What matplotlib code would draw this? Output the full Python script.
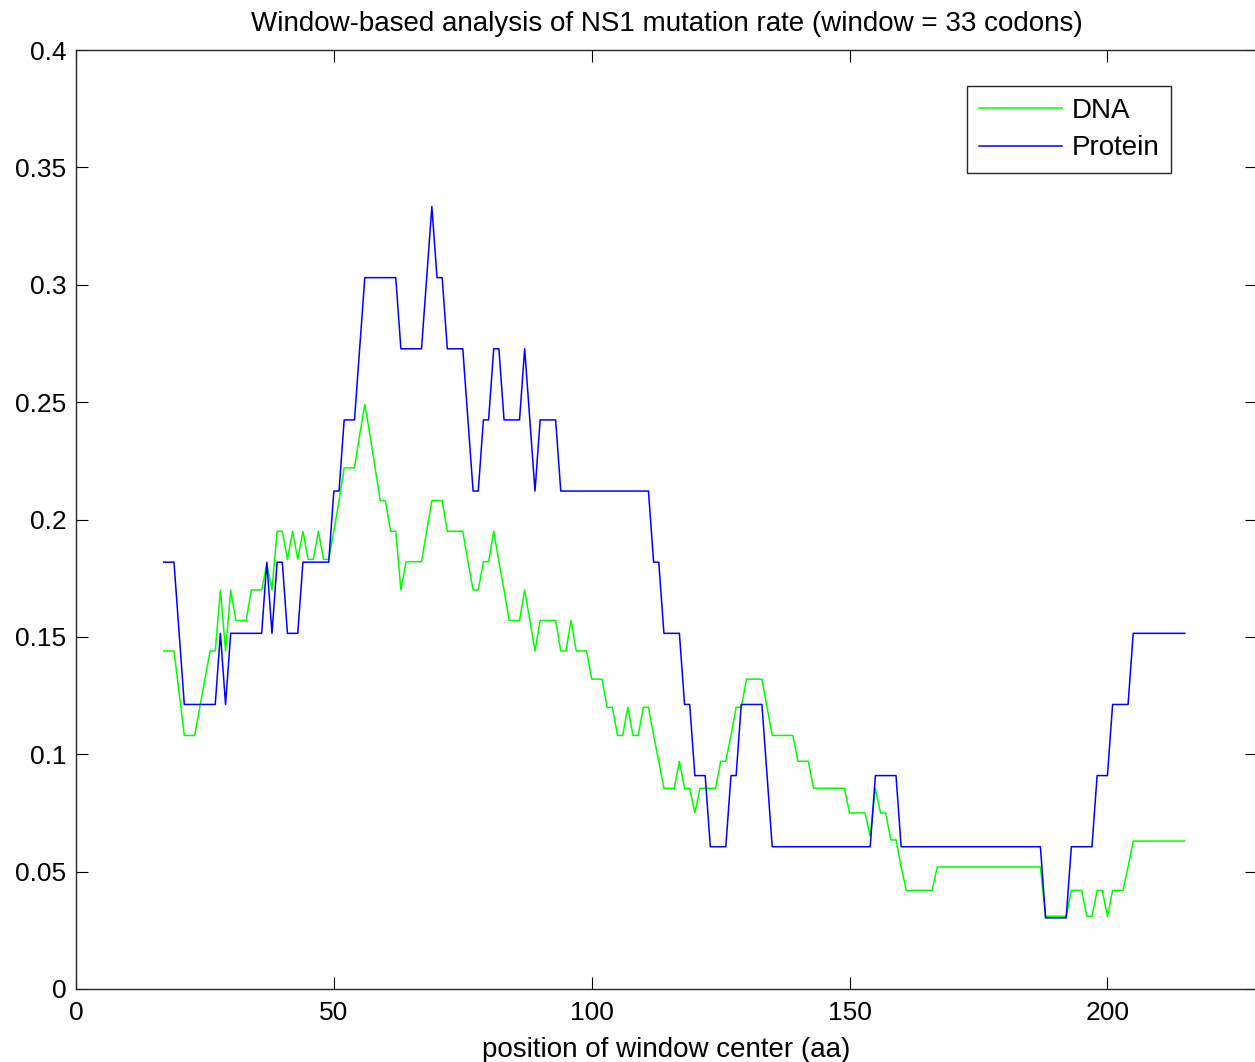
import numpy as np
import matplotlib
matplotlib.use("Agg")
from matplotlib import pyplot as plt

plt.rcParams['font.family'] = ['Liberation Sans', 'DejaVu Sans']

px = 1 / 100.  # pixel in inches at dpi 100

WINDOW = 33

# window centers (aa)
position = np.arange(17, 216)

# protein: number of mutated codons in the window (rate = count / 33)
protein_count = [
    6, 6, 6, 5, 4, 4, 4, 4, 4, 4,
    4, 5, 4, 5, 5, 5, 5, 5, 5, 5,
    6, 5, 6, 6, 5, 5, 5, 6, 6, 6,
    6, 6, 6, 7, 7, 8, 8, 8, 9, 10,
    10, 10, 10, 10, 10, 10, 9, 9, 9, 9,
    9, 10, 11, 10, 10, 9, 9, 9, 9, 8,
    7, 7, 8, 8, 9, 9, 8, 8, 8, 8,
    9, 8, 7, 8, 8, 8, 8, 7, 7, 7,
    7, 7, 7, 7, 7, 7, 7, 7, 7, 7,
    7, 7, 7, 7, 7, 6, 6, 5, 5, 5,
    5, 4, 4, 3, 3, 3, 2, 2, 2, 2,
    3, 3, 4, 4, 4, 4, 4, 3, 2, 2,
    2, 2, 2, 2, 2, 2, 2, 2, 2, 2,
    2, 2, 2, 2, 2, 2, 2, 2, 3, 3,
    3, 3, 3, 2, 2, 2, 2, 2, 2, 2,
    2, 2, 2, 2, 2, 2, 2, 2, 2, 2,
    2, 2, 2, 2, 2, 2, 2, 2, 2, 2,
    2, 1, 1, 1, 1, 1, 2, 2, 2, 2,
    2, 3, 3, 3, 4, 4, 4, 4, 5, 5,
    5, 5, 5, 5, 5, 5, 5, 5, 5,
]

# DNA mutation rate per window
dna_rate = [
    0.144, 0.144, 0.144, 0.126, 0.108, 0.108, 0.108, 0.120, 0.132, 0.144,
    0.144, 0.170, 0.144, 0.170, 0.157, 0.157, 0.157, 0.170, 0.170, 0.170,
    0.181, 0.170, 0.195, 0.195, 0.183, 0.195, 0.183, 0.195, 0.183, 0.183,
    0.195, 0.183, 0.183, 0.195, 0.208, 0.222, 0.222, 0.222, 0.236, 0.249,
    0.236, 0.222, 0.208, 0.208, 0.195, 0.195, 0.170, 0.182, 0.182, 0.182,
    0.182, 0.195, 0.208, 0.208, 0.208, 0.195, 0.195, 0.195, 0.195, 0.182,
    0.170, 0.170, 0.182, 0.182, 0.195, 0.182, 0.170, 0.157, 0.157, 0.157,
    0.170, 0.157, 0.144, 0.157, 0.157, 0.157, 0.157, 0.144, 0.144, 0.157,
    0.144, 0.144, 0.144, 0.132, 0.132, 0.132, 0.120, 0.120, 0.108, 0.108,
    0.120, 0.108, 0.108, 0.120, 0.120, 0.108, 0.097, 0.0855, 0.0855, 0.0855,
    0.097, 0.0855, 0.0855, 0.075, 0.0855, 0.0855, 0.0855, 0.0855, 0.097, 0.097,
    0.108, 0.120, 0.120, 0.132, 0.132, 0.132, 0.132, 0.120, 0.108, 0.108,
    0.108, 0.108, 0.108, 0.097, 0.097, 0.097, 0.0855, 0.0855, 0.0855, 0.0855,
    0.0855, 0.0855, 0.0855, 0.075, 0.075, 0.075, 0.075, 0.065, 0.0855, 0.075,
    0.075, 0.0635, 0.0635, 0.052, 0.042, 0.042, 0.042, 0.042, 0.042, 0.042,
    0.052, 0.052, 0.052, 0.052, 0.052, 0.052, 0.052, 0.052, 0.052, 0.052,
    0.052, 0.052, 0.052, 0.052, 0.052, 0.052, 0.052, 0.052, 0.052, 0.052,
    0.052, 0.031, 0.031, 0.031, 0.031, 0.031, 0.042, 0.042, 0.042, 0.031,
    0.031, 0.042, 0.042, 0.031, 0.042, 0.042, 0.042, 0.052, 0.063, 0.063,
    0.063, 0.063, 0.063, 0.063, 0.063, 0.063, 0.063, 0.063, 0.063,
]

protein_rate = np.array(protein_count) / WINDOW

fig = plt.figure(figsize=(1255 * px, 1062 * px), dpi=100)
# axes box: left 76px, bottom 989px, top 50px, right spine just past the image edge
ax = fig.add_axes([76 / 1255, (1062 - 989) / 1062, 1181 / 1255, 939 / 1062])

ax.plot(position, dna_rate, color='#00ff00', linewidth=1.1, label='DNA')
ax.plot(position, protein_rate, color='#0000ff', linewidth=1.1, label='Protein')

ax.set_xlim(0, 229)
ax.set_ylim(0, 0.4)
ax.set_xticks([0, 50, 100, 150, 200])
ax.set_yticks([0, 0.05, 0.1, 0.15, 0.2, 0.25, 0.3, 0.35, 0.4])
ax.set_yticklabels(['0', '0.05', '0.1', '0.15', '0.2', '0.25', '0.3', '0.35', '0.4'])
ax.tick_params(direction='in', length=8.6, width=0.8, top=True, right=True,
               labelsize=19)
ax.tick_params(axis='x', pad=9)
ax.tick_params(axis='y', pad=7)
for s in ax.spines.values():
    s.set_linewidth(1.0)
    s.set_color('#262626')

ax.set_title('Window-based analysis of NS1 mutation rate (window = 33 codons)',
             fontsize=20, pad=14)
ax.set_xlabel('position of window center (aa)', fontsize=20, labelpad=8)

leg = ax.legend(loc='upper left', bbox_to_anchor=(967 / 1255, 1 - 86 / 1062),
                bbox_transform=fig.transFigure, borderaxespad=0,
                fontsize=20, frameon=True, fancybox=False, framealpha=1,
                edgecolor='#262626', handlelength=3.0, handletextpad=0.35,
                labelspacing=0.42, borderpad=0.42)
leg.get_frame().set_linewidth(1.0)

plt.savefig('out.png', dpi=100)
plt.close()
